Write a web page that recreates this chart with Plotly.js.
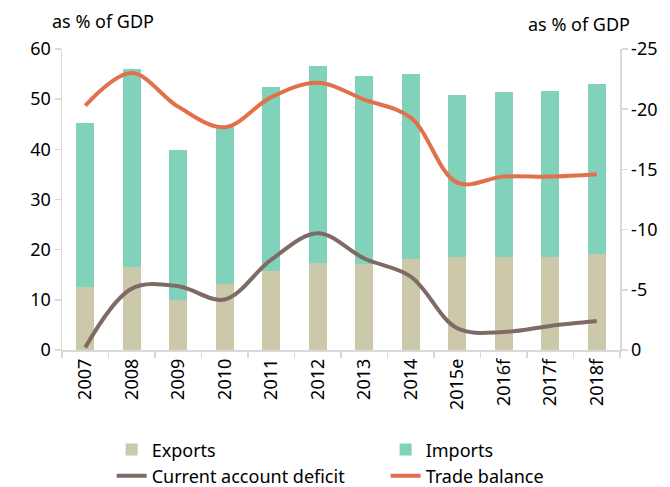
<!DOCTYPE html>
<html>
<head>
<meta charset="utf-8">
<script src="https://cdn.plot.ly/plotly-3.0.1.min.js"></script>
<style>html,body{margin:0;padding:0;background:#fff;}#chart{width:670px;height:487px;}</style>
</head>
<body>
<div id="chart"></div>
<script>
const years = ["2007","2008","2009","2010","2011","2012","2013","2014","2015e","2016f","2017f","2018f"];
const exportsPct = [12.5, 16.5, 9.9, 13.2, 15.7, 17.3, 17.1, 18.1, 18.5, 18.5, 18.5, 19.2];
const importsTop = [45.2, 56.0, 39.9, 44.6, 52.4, 56.7, 54.6, 55.0, 50.8, 51.4, 51.7, 53.0];
const importsPct = importsTop.map((t, i) => +(t - exportsPct[i]).toFixed(1));
const currentAccount = [-0.2, -5.1, -5.3, -4.2, -7.5, -9.7, -7.6, -6.1, -1.8, -1.5, -2.0, -2.4];
const tradeBalance = [-20.3, -23.0, -20.2, -18.5, -21.0, -22.2, -20.8, -19.3, -13.9, -14.4, -14.4, -14.6];
const leftTicks = [0, 10, 20, 30, 40, 50, 60];
const rightTicks = [0, -5, -10, -15, -20, -25];
const rightTickText = ["0", "-5", "-10", "-15", "-20", "-25"];

const font = "Noto Sans, Open Sans, sans-serif";
const data = [
  {type:"bar", name:"Exports", x:years, y:exportsPct, marker:{color:"#CBC9A9"}, yaxis:"y", legend:"legend"},
  {type:"bar", name:"Imports", x:years, y:importsPct, marker:{color:"#80D2BA"}, yaxis:"y", legend:"legend2"},
  {type:"scatter", mode:"lines", name:"Current account deficit", x:years, y:currentAccount, yaxis:"y2",
   legend:"legend", line:{color:"#7F6A66", width:4, shape:"spline", smoothing:1}},
  {type:"scatter", mode:"lines", name:"Trade balance", x:years, y:tradeBalance, yaxis:"y2",
   legend:"legend2", line:{color:"#E2704C", width:4, shape:"spline", smoothing:1}}
];
const axisCommon = {showline:true, linecolor:"#d9d9d9", linewidth:1.5, ticks:"outside", ticklen:6,
                    tickcolor:"#d9d9d9", tickwidth:1.5, showgrid:false, zeroline:false, tickfont:{size:18}};
const legendCommon = {orientation:"v", xanchor:"left", yanchor:"top", y:-0.27, font:{size:18},
                      traceorder:"normal", tracegroupgap:0, bgcolor:"rgba(0,0,0,0)"};
const layout = {
  width:670, height:487,
  margin:{l:62, r:50, t:49, b:137, autoexpand:false},
  paper_bgcolor:"#fff", plot_bgcolor:"#fff",
  barmode:"stack", bargap:0.61,
  font:{family:font, size:18, color:"#000"},
  showlegend:true,
  legend:Object.assign({x:0.089}, legendCommon),
  legend2:Object.assign({x:0.58}, legendCommon),
  xaxis:Object.assign({}, axisCommon, {type:"category", tickangle:-90, tickson:"boundaries"}),
  yaxis:Object.assign({}, axisCommon, {range:[0,60], tickvals:leftTicks}),
  yaxis2:Object.assign({}, axisCommon, {overlaying:"y", side:"right", range:[0,-25],
          tickvals:rightTicks, ticktext:rightTickText}),
  annotations:[
    {text:"as % of GDP", xref:"paper", yref:"paper", x:-0.022, y:1.0, xanchor:"left", yanchor:"bottom",
     yshift:14, showarrow:false, font:{size:18}},
    {text:"as % of GDP", xref:"paper", yref:"paper", x:1.022, y:1.0, xanchor:"right", yanchor:"bottom",
     yshift:11, showarrow:false, font:{size:18}}
  ]
};
Plotly.newPlot("chart", data, layout, {displayModeBar:false, staticPlot:true});
</script>
</body>
</html>
